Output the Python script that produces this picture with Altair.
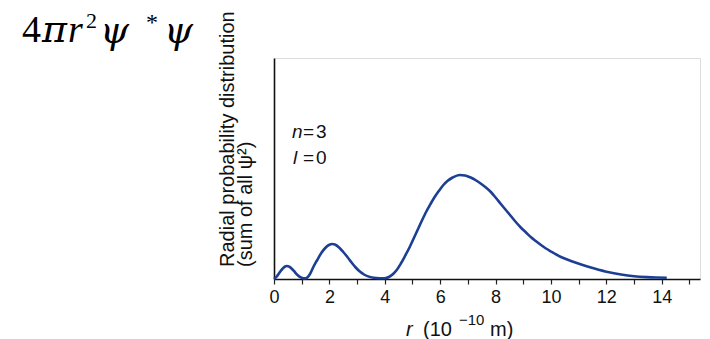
import altair as alt
import pandas as pd

# Radial probability distribution for n=3, l=0
r_values = [0.0, 0.1, 0.2, 0.3, 0.4, 0.46, 0.55, 0.65, 0.75, 0.85, 0.95, 1.05, 1.12,
            1.2, 1.3, 1.42, 1.55, 1.72, 1.85, 2.0, 2.1, 2.2, 2.35, 2.5, 2.65, 2.8, 2.95, 3.1,
            3.25, 3.4, 3.6, 3.8, 4.0,
            4.15, 4.3, 4.43, 4.58, 4.73, 4.9, 5.05, 5.2, 5.35, 5.5, 5.65, 5.8, 5.95, 6.1, 6.26,
            6.45, 6.7, 6.9, 7.1, 7.3, 7.46, 7.65, 7.83, 8.0, 8.19, 8.37, 8.55, 8.73, 8.91, 9.1,
            9.27, 9.45, 9.64, 9.82, 10.0, 10.36, 10.72, 11.09, 11.57, 12.05, 12.53, 13.0, 13.45,
            13.8, 14.18]
prob_values = [0.0, 2.5, 6.5, 10.0, 12.5, 13.0, 12.3, 10.0, 7.0, 4.0, 1.8, 0.8, 0.6,
               1.5, 5.0, 12.0, 18.5, 26.5, 31.0, 34.3, 35.0, 34.5, 31.5, 27.0, 22.0, 16.5, 11.5, 7.5,
               4.5, 2.6, 1.3, 0.8, 0.7,
               2.0, 5.0, 9.0, 15.5, 23.0, 32.0, 41.0, 50.0, 59.0, 67.5, 75.0, 82.0, 88.0, 93.5, 98.0,
               101.5, 104.0, 103.5, 101.5, 98.5, 95.5, 91.5, 87.0, 81.5, 75.0, 69.0, 63.0, 57.0, 51.5, 46.5,
               42.0, 38.0, 34.0, 30.5, 27.5, 22.0, 18.0, 14.5, 10.5, 7.0, 4.5, 2.8, 1.9,
               1.5, 1.3]
x_ticks = list(range(0, 16))
x_domain = [0, 15.38]
y_domain = [0, 221]

df = pd.DataFrame({"r": r_values, "p": prob_values})

line = alt.Chart(df).mark_line(
    color="#1d3f93", strokeWidth=2.6, interpolate="monotone"
).encode(
    x=alt.X("r:Q", scale=alt.Scale(domain=x_domain, nice=False, zero=False),
            axis=alt.Axis(values=x_ticks, title=None, grid=False,
                          labelExpr="datum.value % 2 == 0 && datum.value <= 14 ? datum.label : ''",
                          labelFont="Liberation Sans", labelFontSize=18, labelColor="#111",
                          labelPadding=4, tickSize=5, tickColor="#222", tickWidth=1.2,
                          domainColor="#111", domainWidth=1.6, labelFlush=False)),
    y=alt.Y("p:Q", scale=alt.Scale(domain=y_domain, nice=False),
            axis=alt.Axis(title=None, labels=False, ticks=False, grid=False,
                          domainColor="#111", domainWidth=1.6)),
)

OX, OY = 274, 58  # plot origin on the page


def txt(t, px, py, size, style="normal", font="Liberation Sans", angle=0,
        baseline="alphabetic", color="#111"):
    kw = dict(align="left", baseline=baseline, fontSize=size, fontStyle=style,
              font=font, color=color)
    if angle:
        kw["angle"] = angle
    return alt.Chart(pd.DataFrame({"t": [t]})).mark_text(**kw).encode(
        x=alt.value(px - OX), y=alt.value(py - OY), text="t:N")


texts = [
    # big formula
    txt("4", 22, 42, 38, font="Liberation Serif", color="#000"),
    txt("π", 42, 42, 38, style="italic", font="DejaVu Serif", color="#000"),
    txt("r", 68, 42, 38, style="italic", font="Liberation Serif", color="#000"),
    txt("2", 86, 28, 22, font="Liberation Serif", color="#000"),
    txt("ψ", 100, 43, 37, style="italic", font="DejaVu Serif", color="#000"),
    txt("*", 146, 30, 24, font="Liberation Serif", color="#000"),
    txt("ψ", 164, 43, 37, style="italic", font="DejaVu Serif", color="#000"),
    # y-axis title
    txt("Radial probability distribution", 228, 267, 20, angle=270, baseline="middle"),
    txt("(sum of all ψ²)", 246, 267, 20, angle=270, baseline="middle"),
    # annotations
    txt("n", 292, 138, 19, style="italic"),
    txt("=", 303, 138, 19),
    txt("3", 316, 138, 19),
    txt("l", 293, 164, 19, style="italic"),
    txt("=", 303, 164, 19),
    txt("0", 316, 164, 19),
    # x-axis title
    txt("r", 406, 336, 20, style="italic"),
    txt("(10", 423, 336, 20),
    txt("−10", 459, 325, 15),
    txt("m)", 490, 336, 20),
]

chart = alt.layer(line, *texts).properties(
    width=426, height=221,
    autosize=alt.AutoSizeParams(type="none"),
    padding={"left": 266, "top": 50, "right": 2, "bottom": 60},
).configure_view(stroke=None).configure(background="white")

chart.save("out.html", embed_options={"renderer": "svg", "actions": False})
